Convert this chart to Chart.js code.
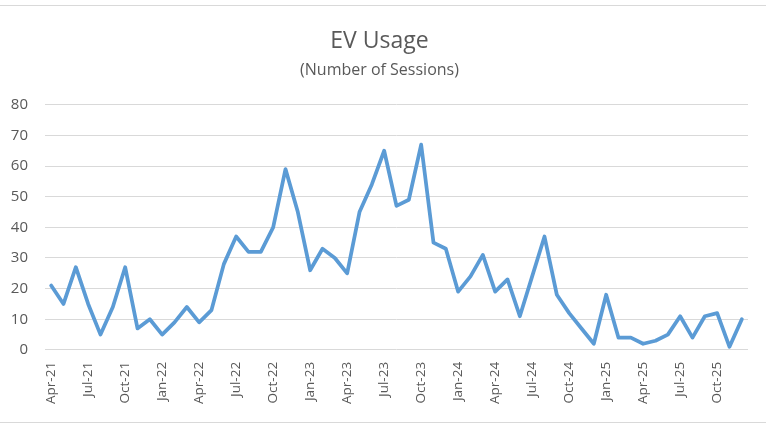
<!DOCTYPE html>
<html>
<head>
<meta charset="utf-8">
<script src="https://cdn.jsdelivr.net/npm/chart.js@4"></script>
<style>
  body { margin: 0; background: #fff; }
  #wrap { position: relative; width: 766px; height: 424px; }
  #wrap .rule { position: absolute; left: 0; width: 766px; height: 1px; background: #d9d9d9; }
</style>
</head>
<body>
<div id="wrap">
  <div class="rule" style="top:5px"></div>
  <canvas id="evChart" width="766" height="424"></canvas>
  <div class="rule" style="top:422px"></div>
</div>
<script>
// Apr-21 .. Dec-25, one label per month
const labels = [
  'Apr-21', 'May-21', 'Jun-21', 'Jul-21', 'Aug-21', 'Sep-21', 'Oct-21', 'Nov-21', 'Dec-21',
  'Jan-22', 'Feb-22', 'Mar-22', 'Apr-22', 'May-22', 'Jun-22', 'Jul-22', 'Aug-22', 'Sep-22', 'Oct-22', 'Nov-22', 'Dec-22',
  'Jan-23', 'Feb-23', 'Mar-23', 'Apr-23', 'May-23', 'Jun-23', 'Jul-23', 'Aug-23', 'Sep-23', 'Oct-23', 'Nov-23', 'Dec-23',
  'Jan-24', 'Feb-24', 'Mar-24', 'Apr-24', 'May-24', 'Jun-24', 'Jul-24', 'Aug-24', 'Sep-24', 'Oct-24', 'Nov-24', 'Dec-24',
  'Jan-25', 'Feb-25', 'Mar-25', 'Apr-25', 'May-25', 'Jun-25', 'Jul-25', 'Aug-25', 'Sep-25', 'Oct-25', 'Nov-25', 'Dec-25'
];

const sessions = [
  21, 15, 27, 15, 5, 14, 27, 7, 10,
  5, 9, 14, 9, 13, 28, 37, 32, 32, 40, 59, 45,
  26, 33, 30, 25, 45, 54, 65, 47, 49, 67, 35, 33,
  19, 24, 31, 19, 23, 11, 24, 37, 18, 12, 7, 2,
  18, 4, 4, 2, 3, 5, 11, 4, 11, 12, 1, 10
];

// only every third month gets a label on the axis
const shownMonths = ['Jan', 'Apr', 'Jul', 'Oct'];

const yTicks = [0, 10, 20, 30, 40, 50, 60, 70, 80];

const textColor = '#595959';
const gridColor = '#d9d9d9';

const ctx = document.getElementById('evChart').getContext('2d');
new Chart(ctx, {
  type: 'line',
  data: {
    labels: labels,
    datasets: [{
      label: 'Sessions',
      data: sessions,
      borderColor: '#5b9bd5',
      borderWidth: 3.75,
      borderJoinStyle: 'round',
      borderCapStyle: 'round',
      pointRadius: 0,
      tension: 0,
      fill: false
    }]
  },
  options: {
    responsive: false,
    animation: false,
    layout: { padding: { left: 11, right: 18, top: 0, bottom: 8 } },
    plugins: {
      legend: { display: false },
      tooltip: { enabled: false },
      title: {
        display: true,
        text: 'EV Usage',
        color: textColor,
        font: { family: 'Open Sans', size: 23, weight: 'normal' },
        padding: { top: 28, bottom: 5 }
      },
      subtitle: {
        display: true,
        text: '(Number of Sessions)',
        color: textColor,
        font: { family: 'Open Sans', size: 16, weight: 'normal' },
        padding: { top: 0, bottom: 25 }
      }
    },
    scales: {
      x: {
        offset: true,
        grid: { display: false, drawTicks: false },
        border: { display: false },
        afterFit: function (scale) {
          scale.paddingLeft = 0;
          scale.paddingRight = 0;
        },
        ticks: {
          autoSkip: false,
          maxRotation: 90,
          minRotation: 90,
          padding: 12,
          color: textColor,
          font: { family: 'Open Sans', size: 13.5 },
          callback: function (value, index) {
            const lab = labels[index];
            return shownMonths.includes(lab.slice(0, 3)) ? lab : '';
          }
        }
      },
      y: {
        min: yTicks[0],
        max: yTicks[yTicks.length - 1],
        grid: { color: gridColor, lineWidth: 1, drawTicks: false },
        border: { display: false },
        afterFit: function (scale) {
          // labels (about 17px wide) plus a 17px gap to the plot
          scale.width = 34;
        },
        ticks: {
          stepSize: 10,
          padding: 17,
          color: textColor,
          font: { family: 'Open Sans', size: 15 }
        }
      }
    }
  }
});
</script>
</body>
</html>
